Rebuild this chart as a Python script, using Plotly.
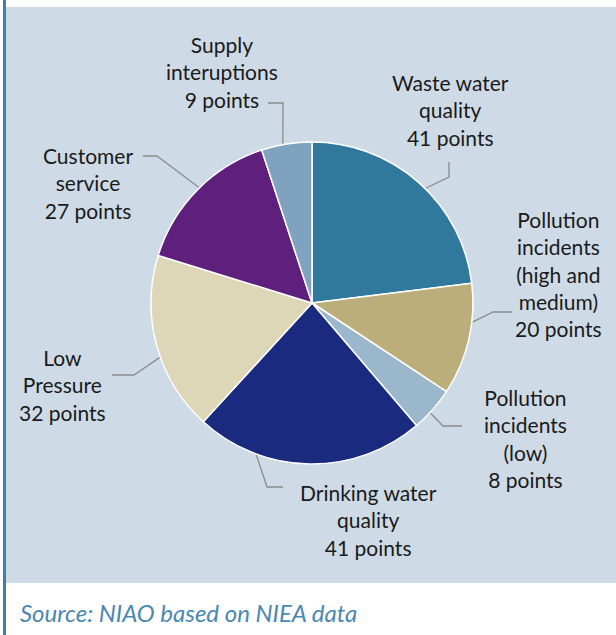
import math
import plotly.graph_objects as go

# Points awarded per service category
categories = [
    "Waste water quality",
    "Pollution incidents (high and medium)",
    "Pollution incidents (low)",
    "Drinking water quality",
    "Low Pressure",
    "Customer service",
    "Supply interuptions",
]
points = [41, 20, 8, 41, 32, 27, 9]
label_text = [
    "Waste water<br>quality<br>{} points",
    "Pollution<br>incidents<br>(high and<br>medium)<br>{} points",
    "Pollution<br>incidents<br>(low)<br>{} points",
    "Drinking water<br>quality<br>{} points",
    "Low<br>Pressure<br>{} points",
    "Customer<br>service<br>{} points",
    "Supply<br>interuptions<br>{} points",
]

colors = ["#30799d", "#bcae7a", "#9bb7cc", "#1a2a7e", "#ddd6b7", "#5f1f7c", "#7fa3bf"]

W, H = 616, 635
CX, CY, R = 312, 303, 161  # pie centre and radius in pixels

# label placement (pixels): text centre, leader elbow/end, where on the slice the leader meets it
label_pos = [(451, 110), (558, 274), (525, 438), (368, 520), (62, 385), (88, 183), (222, 72)]
leader_start = [(449, 162), (512, 312), (462, 426), (283, 487), (112, 375), (143, 156), (268, 103)]
leader_elbow = [(449, 177), (493, 312), (443, 426), (267, 487), (134, 375), (157, 156), (283, 103)]
anchor_frac = [0.54, 0.34, 0.59, 0.73, 0.43, 0.52, 0.43]


def px(x):
    return x / W


def py(y):
    return 1 - y / H


fig = go.Figure()
fig.add_trace(go.Pie(
    labels=categories,
    values=points,
    sort=False,
    direction="clockwise",
    rotation=0,
    textinfo="none",
    hoverinfo="label+value",
    marker=dict(colors=colors, line=dict(color="white", width=1.5)),
    domain=dict(x=[px(CX - R), px(CX + R)], y=[py(CY + R), py(CY - R)]),
    showlegend=False,
))

shapes = [
    # chart panel
    dict(type="rect", xref="paper", yref="paper", x0=px(6), x1=1, y0=py(583), y1=py(7),
         fillcolor="#cedae6", line=dict(width=0), layer="below"),
    # left rule
    dict(type="rect", xref="paper", yref="paper", x0=px(3), x1=px(6), y0=0, y1=1,
         fillcolor="#3f80a9", line=dict(width=0), layer="below"),
]
annotations = []

total = sum(points)
start = 0.0
for i, v in enumerate(points):
    sweep = 360.0 * v / total
    ang = math.radians(start + sweep * anchor_frac[i])
    ax = CX + (R + 1) * math.sin(ang)
    ay = CY - (R + 1) * math.cos(ang)
    start += sweep

    sx, sy = leader_start[i]
    ex, ey = leader_elbow[i]
    path = "M {} {} L {} {} L {} {}".format(px(sx), py(sy), px(ex), py(ey), px(ax), py(ay))
    shapes.append(dict(type="path", xref="paper", yref="paper", path=path,
                       line=dict(color="#8c8c8c", width=1.3)))

    tx, ty = label_pos[i]
    annotations.append(dict(
        x=px(tx), y=py(ty), xref="paper", yref="paper",
        text=label_text[i].format(v), showarrow=False,
        xanchor="center", yanchor="middle", align="center",
        font=dict(family="Lato", size=21, color="#1a1a1a"),
    ))

annotations.append(dict(
    x=px(18), y=py(612), xref="paper", yref="paper",
    text="<i>Source: NIAO based on NIEA data</i>", showarrow=False,
    xanchor="left", yanchor="middle",
    font=dict(family="Lato", size=24, color="#4a88b2"),
))

fig.update_layout(
    width=W, height=H,
    margin=dict(l=0, r=0, t=0, b=0),
    paper_bgcolor="white",
    plot_bgcolor="white",
    shapes=shapes,
    annotations=annotations,
)

fig.write_html("out.html")
